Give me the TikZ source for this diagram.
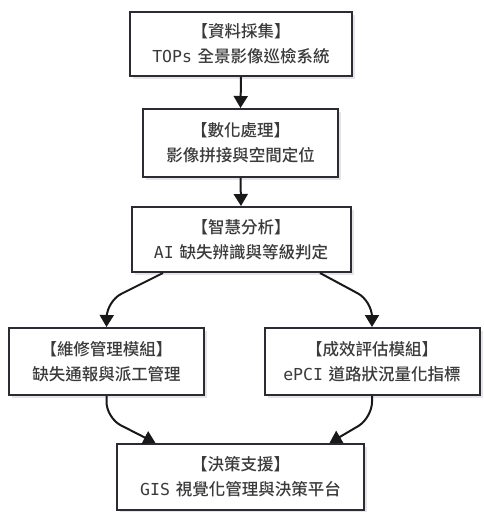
\documentclass[tikz,border=0pt]{standalone}
\usepackage{fontspec}
\setmainfont{Noto Sans CJK TC}[UprightFont=* Medium]
\newfontfamily\monof{DejaVu Sans Mono}
\usetikzlibrary{arrows.meta,shadows}
\definecolor{ink}{HTML}{3A3A3A}
\definecolor{edge}{HTML}{2E2A33}
\begin{document}
\begin{tikzpicture}[x=1pt,y=-1pt,
  box/.style={draw=edge,line width=2pt,fill=white,align=center,text=ink,
    font=\fontsize{16.5}{25}\selectfont,inner sep=0pt,
    drop shadow={shadow xshift=3pt,shadow yshift=-3pt,fill=black!10,opacity=1}},
  conn/.style={draw=black!90,line width=2pt,-{Triangle[length=12pt,width=14pt]}},
  curv/.style={conn,rounded corners=16pt}]
\useasboundingbox (0,0) rectangle (483,512);
\node[box,minimum width=222pt,minimum height=64pt] (b1) at (241,44) {【資料採集】\\{\monof TOPs}\hspace{2pt} 全景影像巡檢系統};
\node[box,minimum width=195pt,minimum height=68pt] (b2) at (240.5,143) {【數化處理】\\影像拼接與空間定位};
\node[box,minimum width=219pt,minimum height=65pt] (b3) at (241,239.5) {【智慧分析】\\{\monof AI}\hspace{2pt} 缺失辨識與等級判定};
\node[box,minimum width=195pt,minimum height=67pt] (b4) at (106.5,361.5) {【維修管理模組】\\缺失通報與派工管理};
\node[box,minimum width=215pt,minimum height=67pt] (b5) at (372,361.5) {【成效評估模組】\\{\monof ePCI}\hspace{2pt} 道路狀況量化指標};
\node[box,minimum width=247pt,minimum height=66pt] (b6) at (240.5,477) {【決策支援】\\{\monof GIS}\hspace{2pt} 視覺化管理與決策平台};
\coordinate (c1) at (107,301);
\coordinate (c2) at (372,301);
\coordinate (c3) at (106.5,418);
\coordinate (c4) at (372,418);
\draw[conn] (b1.south) -- (b2.north);
\draw[conn] (b2.south) -- (b3.north);
\draw[curv] ([xshift=-78pt]b3.south) -- (c1) -- (b4.north);
\draw[curv] ([xshift=79pt]b3.south) -- (c2) -- (b5.north);
\draw[curv] (b4.south) -- (c3) -- ([xshift=-85pt]b6.north);
\draw[curv] (b5.south) -- (c4) -- ([xshift=89pt]b6.north);
\end{tikzpicture}
\end{document}
